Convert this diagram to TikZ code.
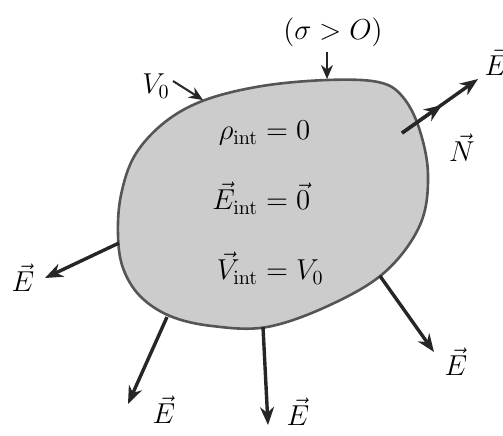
\documentclass[tikz,border=0pt]{standalone}
\usepackage{amsmath}
\usetikzlibrary{arrows.meta}

\definecolor{blobfill}{RGB}{204,204,204}
\definecolor{blobline}{RGB}{85,85,85}

\begin{document}
\begin{tikzpicture}
[
	x=0.5pt,y=-0.5pt,
	font=\fontsize{14.5}{17}\selectfont,
	field/.style={-{Stealth[length=9pt,width=7pt]},line width=1.7pt,black!85},
	pointer/.style={-{Stealth[length=7pt,width=6pt]},line width=1pt,black!85},
	lbl/.style={inner sep=1pt}
]

	\useasboundingbox (0,0) rectangle (503,435);

	% conductor
	\draw[blobline,fill=blobfill,line width=1.3pt] plot[smooth cycle,tension=0.6] coordinates {
		(327,80) (378,82) (402,96) (419,128) (428,175) (420,225) (385,272)
		(330,305) (267,327) (212,326) (170,316) (140,296) (123,268) (118,235)
		(121,195) (135,155) (165,122) (205,100) (262,86)
	};

	% inside
	\node[lbl] (inside) at (268,203) {$\begin{aligned}
		\rho_{\mathrm{int}} &= 0\\[12pt]
		\vec{E}_{\mathrm{int}} &= \vec{0}\\[12pt]
		\vec{V}_{\mathrm{int}} &= V_0
	\end{aligned}$};

	% surface points
	\coordinate (s1) at (402,133);
	\coordinate (s2) at (119,243);
	\coordinate (s3) at (167,317);
	\coordinate (s4) at (263,327);
	\coordinate (s5) at (380,276);
	\coordinate (sv) at (203,100);
	\coordinate (ss) at (327,79);

	% field ends
	\coordinate (e1) at (478,79);
	\coordinate (n1) at (442,105);
	\coordinate (e2) at (45,278);
	\coordinate (e3) at (128,404);
	\coordinate (e4) at (268,425);
	\coordinate (e5) at (434,352);
	\coordinate (pv) at (173,81);
	\coordinate (ps) at (327,52);

	% field lines
	\draw[field] (s1) -- (e1);
	\draw[field] (s1) -- (n1);
	\draw[field] (s2) -- (e2);
	\draw[field] (s3) -- (e3);
	\draw[field] (s4) -- (e4);
	\draw[field] (s5) -- (e5);
	\draw[pointer] (pv) -- (sv);
	\draw[pointer] (ps) -- (ss);

	% labels
	\node[lbl] (E1) at (496,62) {$\vec{E}$};
	\node[lbl] (N1) at (462,148) {$\vec{N}$};
	\node[lbl] (E2) at (23,278) {$\vec{E}$};
	\node[lbl] (E3) at (164,410) {$\vec{E}$};
	\node[lbl] (E4) at (298,412) {$\vec{E}$};
	\node[lbl] (E5) at (456,362) {$\vec{E}$};
	\node[lbl] (V0) at (156,86) {$V_0$};
	\node[lbl] (sig) at (333,32) {$(\sigma > O)$};

\end{tikzpicture}
\end{document}
